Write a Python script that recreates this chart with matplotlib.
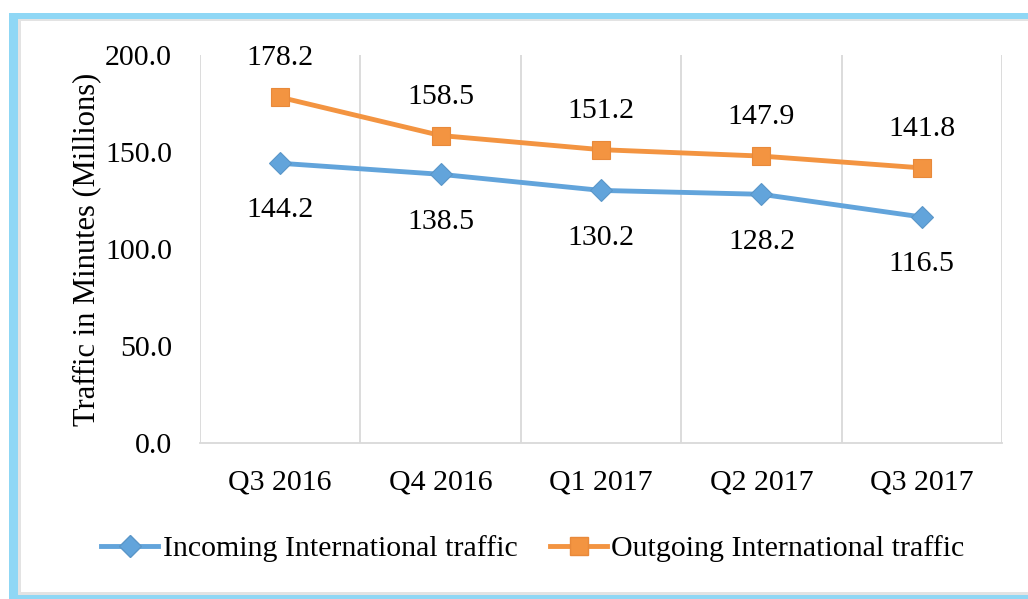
import matplotlib
matplotlib.use("Agg")
import matplotlib.pyplot as plt
from matplotlib.patches import Rectangle
from matplotlib.lines import Line2D

categories = ["Q3 2016", "Q4 2016", "Q1 2017", "Q2 2017", "Q3 2017"]
incoming = [144.2, 138.5, 130.2, 128.2, 116.5]
outgoing = [178.2, 158.5, 151.2, 147.9, 141.8]
yticks = [0, 50, 100, 150, 200]

blue = "#62A4DB"
orange = "#F39441"
W, H = 1028, 599
FS = 21.5
LW = 3.5

plt.rcParams['font.family'] = ['Liberation Serif', 'DejaVu Serif']
fig = plt.figure(figsize=(W / 100, H / 100), dpi=100)

def rect(x0, y0, x1, y1, **kw):
    # pixel coords from top-left
    fig.patches.append(Rectangle((x0 / W, 1 - y1 / H), (x1 - x0) / W, (y1 - y0) / H,
                                 transform=fig.transFigure, zorder=-5, **kw))

rect(9, 13, W + 5, H + 5, facecolor="#8FD7F5", edgecolor="none")
rect(18, 19, W + 5, 594.5, facecolor="#E3E3E3", edgecolor="none")
rect(20.5, 21, W + 5, 592, facecolor="white", edgecolor="none")

ax = fig.add_axes([200 / W, 1 - 443 / H, (1002 - 200) / W, (443 - 55) / H])
ax.set_facecolor("none")
x = list(range(len(categories)))

ax.plot(x, incoming, color=blue, lw=LW, marker="D", markersize=11.5,
        markerfacecolor=blue, markeredgecolor="#5A96C8", markeredgewidth=0.8, zorder=3)
ax.plot(x, outgoing, color=orange, lw=LW, marker="s", markersize=13,
        markerfacecolor=orange, markeredgecolor="#E8893A", markeredgewidth=0.8, zorder=3)

for xi, v in zip(x, outgoing):
    ax.annotate(f"{v:.1f}", (xi, v), xytext=(0, 28), textcoords="offset points",
                ha="center", va="center", fontsize=FS)
for xi, v in zip(x, incoming):
    ax.annotate(f"{v:.1f}", (xi, v), xytext=(0, -34), textcoords="offset points",
                ha="center", va="center", fontsize=FS)

ax.set_xlim(-0.5, len(categories) - 0.5)
ax.set_ylim(0, 200)
ax.set_yticks(yticks)
ax.set_yticklabels([f"{t:.1f}" for t in yticks], fontsize=FS)
ax.set_xticks(x)
ax.set_xticklabels(categories, fontsize=FS)
ax.tick_params(axis="both", length=0)
ax.tick_params(axis="y", pad=20)
ax.tick_params(axis="x", pad=19)
for b in [i - 0.5 for i in range(len(categories) + 1)]:
    ax.axvline(b, color="#D9D9D9", lw=1.3, zorder=1)
for s in ["top", "right", "left"]:
    ax.spines[s].set_visible(False)
ax.spines["bottom"].set_color("#D9D9D9")
ax.spines["bottom"].set_linewidth(1.3)
ax.set_ylabel("Traffic in Minutes (Millions)", fontsize=FS + 0.5, labelpad=3)

handles = [Line2D([], [], color=blue, lw=LW, marker="D", markersize=11.5,
                  markerfacecolor=blue, markeredgecolor="#5A96C8"),
           Line2D([], [], color=orange, lw=LW, marker="s", markersize=13,
                  markerfacecolor=orange, markeredgecolor="#E8893A")]
fig.legend(handles, ["Incoming International traffic", "Outgoing International traffic"],
           loc="center", bbox_to_anchor=(533 / W, 1 - 549 / H), ncol=2, frameon=False,
           fontsize=FS, handlelength=1.9, handletextpad=0.15, columnspacing=1.1)

fig.savefig("out.png", dpi=100)
